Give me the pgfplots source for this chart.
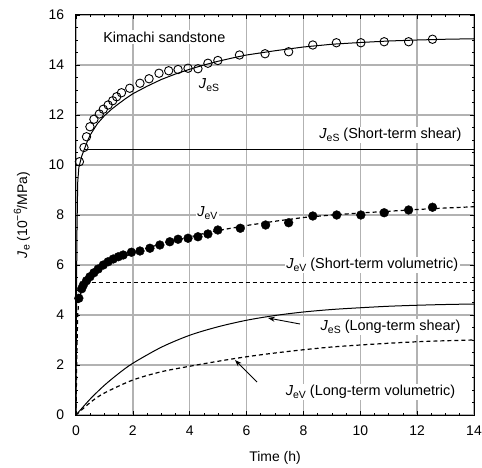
\documentclass[border=0pt]{standalone}
\usepackage{fontspec}
\setmainfont{Liberation Sans}
\usepackage{pgfplots}
\pgfplotsset{compat=1.18}
\usetikzlibrary{arrows.meta}

% compliance symbol with a lowered subscript
\newcommand{\J}[1]{\textit{J}\raisebox{-0.35ex}{\fontsize{10.5}{11}\selectfont #1}}

\begin{document}
\fontsize{14}{16}\selectfont
\begin{tikzpicture}
\path[use as bounding box] (-76bp,-53bp) rectangle (406bp,415bp);
\begin{axis}[
  scale only axis, width=398bp, height=400bp,
  xmin=0, xmax=14, ymin=0, ymax=16,
  xtick={0,2,...,14}, ytick={0,2,...,16},
  minor tick num=3,
  tick align=inside,
  major tick length=4bp, minor tick length=2.5bp,
  grid=major,
  major grid style={gray!60, line width=1.4bp},
  axis line style={line width=1bp},
  every tick/.style={black, line width=0.7bp},
  tick label style={font=\fontsize{14}{16}\selectfont},
  /pgf/number format/assume math mode=true,
  xticklabel style={yshift=-6bp},
  yticklabel style={xshift=-7bp},
  label style={font=\fontsize{14}{16}\selectfont},
  xlabel={Time (h)},
  ylabel={\J{e} (10\raisebox{0.8ex}{\fontsize{10.5}{11}\selectfont −6}/MPa)},
  xlabel style={at={(axis description cs:0.5,-0.1075)}, anchor=center},
  ylabel style={at={(axis description cs:-0.136,0.5)}, anchor=center},
  fit/.style={black, line width=1bp},
  dfit/.style={black, line width=1.2bp, dash pattern=on 4bp off 3bp},
  clip=false,
]
% short-term levels
\addplot[fit] coordinates {(0.28,10.6) (14,10.6)};
\addplot[dfit] coordinates {(0.55,5.3) (14,5.3)};

% long-term components
\addplot[fit, smooth] coordinates {
  (0,0) (0.5,0.64) (1,1.19) (1.5,1.66) (2,2.07) (3,2.71) (4,3.19) (5,3.53)
  (6,3.79) (7,3.98) (8,4.12) (9,4.22) (10,4.29) (11,4.35) (12,4.39) (13,4.42) (14,4.44)};
\addplot[dfit, smooth] coordinates {
  (0,0) (0.5,0.5) (1,0.88) (2,1.4) (3,1.73) (4,1.95) (5,2.15) (6,2.33)
  (7,2.48) (8,2.61) (9,2.72) (10,2.8) (11,2.87) (12,2.93) (13,2.97) (14,3.0)};

% total fitted curves
\addplot[fit] coordinates {
  (0,0) (0.03,7) (0.06,9.3) (0.1,9.9) (0.2,10.35) (0.3,10.65) (0.4,10.95)
  (0.5,11.2) (0.75,11.65) (1,11.97) (1.25,12.23) (1.5,12.45) (1.75,12.66) (2,12.85)
  (2.5,13.15) (3,13.42) (3.5,13.64) (4,13.83) (4.5,14.0) (5,14.15) (5.5,14.28) (6,14.4)
  (7,14.57) (8,14.72) (9,14.83) (10,14.9) (11,14.96) (12,15.0) (13,15.03) (14,15.05)};
\addplot[dfit] coordinates {
  (0,0) (0.03,2.5) (0.06,4.0) (0.1,4.6) (0.2,5.0) (0.3,5.2) (0.5,5.45)
  (0.75,5.72) (1,5.95) (1.5,6.25) (2,6.48) (2.5,6.67) (3,6.85) (3.5,6.99) (4,7.12)
  (4.5,7.26) (5,7.38) (6,7.58) (7,7.75) (8,7.9) (9,8.0) (10,8.08) (11,8.15)
  (12,8.22) (13,8.28) (14,8.33)};

% measured shear compliance
\addplot[only marks, mark=o, mark size=4.2bp, mark options={fill=white, line width=0.9bp}] coordinates {
  (0.12,10.13) (0.28,10.7) (0.37,11.13) (0.49,11.53) (0.63,11.83) (0.82,12.04)
  (0.96,12.23) (1.13,12.4) (1.29,12.57) (1.43,12.73) (1.6,12.89) (1.89,13.07)
  (2.25,13.27) (2.57,13.45) (2.92,13.67) (3.26,13.77) (3.59,13.82) (3.94,13.87)
  (4.29,13.85) (4.64,14.07) (4.99,14.18) (5.75,14.4) (6.65,14.45) (7.48,14.53)
  (8.33,14.8) (9.16,14.89) (10.02,14.89) (10.84,14.93) (11.7,14.93) (12.54,15.03)};
% measured volumetric compliance
\addplot[only marks, mark=*, mark size=4.4bp, black] coordinates {
  (0.1,4.67) (0.2,5.05) (0.26,5.2) (0.37,5.37) (0.49,5.53) (0.63,5.69) (0.78,5.84)
  (0.96,6.0) (1.13,6.13) (1.31,6.24) (1.49,6.33) (1.66,6.4) (1.95,6.51) (2.25,6.56)
  (2.6,6.67) (2.95,6.8) (3.3,6.93) (3.59,7.03) (3.94,7.07) (4.29,7.13) (4.64,7.24)
  (4.99,7.4) (5.78,7.47) (6.67,7.6) (7.48,7.69) (8.33,7.96) (9.17,8.0) (10.02,8.0)
  (10.84,8.09) (11.7,8.2) (12.54,8.31)};

% annotations
\tikzset{lab/.style={fill=white, inner sep=1.5bp, font=\fontsize{14.5}{16}\selectfont}}
\node[lab, anchor=west] at (axis cs:0.9,15.12) {Kimachi sandstone};
\node[lab] at (axis cs:4.68,13.2) {\J{eS}};
\node[lab] at (axis cs:4.62,8.08) {\J{eV}};
\node[lab, anchor=east] at (axis cs:13.62,11.2) {\J{eS} (Short-term shear)};
\node[lab, anchor=east] at (axis cs:13.5,6.0) {\J{eV} (Short-term volumetric)};
\node[lab, anchor=east] at (axis cs:13.58,3.52) {\J{eS} (Long-term shear)};
\node[lab, anchor=east] at (axis cs:13.4,0.92) {\J{eV} (Long-term volumetric)};
\draw[-{Stealth[length=7bp,width=5bp]}, line width=0.9bp] (axis cs:7.88,3.64) -- (axis cs:6.75,3.88);
\draw[-{Stealth[length=7bp,width=5bp]}, line width=0.9bp] (axis cs:6.37,1.32) -- (axis cs:5.59,2.2);
\end{axis}
\end{tikzpicture}
\end{document}
